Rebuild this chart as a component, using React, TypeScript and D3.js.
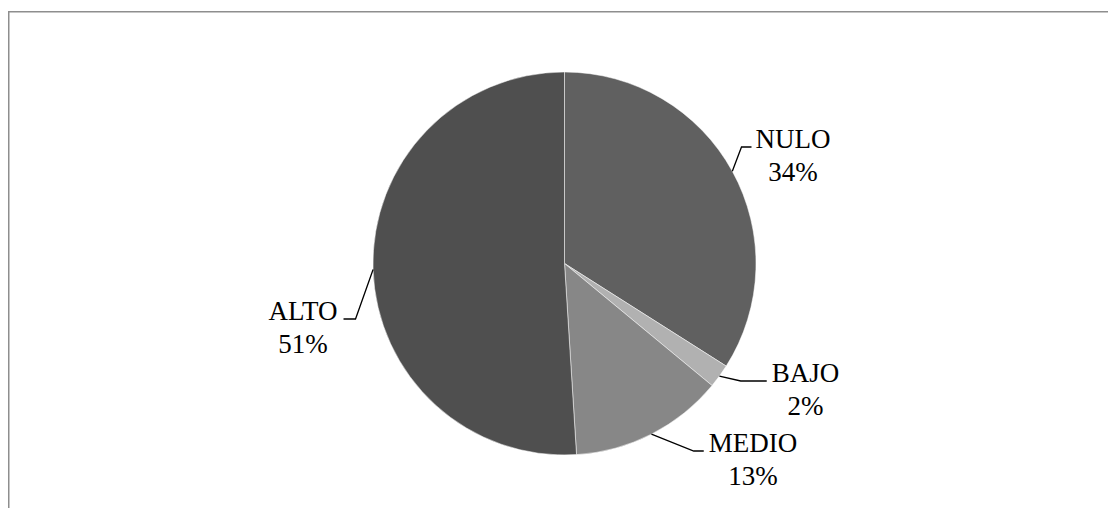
import React, { useEffect, useRef } from 'react';
import * as d3 from 'd3';

// datos del gráfico (orden horario desde las 12)
const categories = ['NULO', 'BAJO', 'MEDIO', 'ALTO'];
const values = [34, 2, 13, 51];
const percentLabels = ['34%', '2%', '13%', '51%'];

const colors = ['#606060', '#b1b1b1', '#878787', '#4f4f4f'];

// posición de cada etiqueta respecto al centro del pastel (centro del texto, primera línea base)
const labelLayout = [
  { dx: 228.5, dy: -115.5, side: 'right', tail: 10, gap: 4 },
  { dx: 241, dy: 118.5, side: 'right', tail: 26, gap: 5 },
  { dx: 188.5, dy: 188.5, side: 'right', tail: 10, gap: 5 },
  { dx: -261.5, dy: 56.5, side: 'left', tail: 12, gap: 6 },
];

// el svg ocupa toda la ventana
const W = 1108, H = 508;
const cx = 564.5, cy = 263.5, R = 191.5;
const FONT = '"Liberation Serif", "Times New Roman", serif';
const FS = 27;
const LINE = 32.5;

const App: React.FC = () => {
  const svgRef = useRef<SVGSVGElement>(null);

  useEffect(() => {
    if (!svgRef.current) return;
    const svg = d3.select(svgRef.current);
    svg.selectAll('*').remove();

    svg.append('rect').attr('width', W).attr('height', H).attr('fill', '#fff');

    // marco gris: sólo se ven los bordes superior e izquierdo
    svg.append('path')
      .attr('d', `M8.75,${H}V11.75H${W}`)
      .attr('fill', 'none')
      .attr('stroke', '#8e8e8e')
      .attr('stroke-width', 1.5);

    const g = svg.append('g').attr('transform', `translate(${cx},${cy})`);

    const data = categories.map((c, i) => ({ name: c, v: values[i], pct: percentLabels[i] }));
    const pie = d3.pie<typeof data[0]>().value(d => d.v).sort(null);
    const arcs = pie(data);
    const arc = d3.arc<d3.PieArcDatum<typeof data[0]>>().innerRadius(0).outerRadius(R);
    const edge = d3.arc<d3.PieArcDatum<typeof data[0]>>().innerRadius(R).outerRadius(R);

    g.selectAll('path.slice')
      .data(arcs)
      .enter()
      .append('path')
      .attr('class', 'slice')
      .attr('d', arc as any)
      .attr('fill', (d, i) => colors[i])
      .attr('stroke', '#fff')
      .attr('stroke-width', 0.5);

    arcs.forEach((a, i) => {
      const L = labelLayout[i];
      const t = g.append('text')
        .attr('text-anchor', 'middle')
        .style('font-family', FONT)
        .style('font-size', `${FS}px`)
        .attr('fill', '#000');
      const t1 = t.append('tspan').attr('x', L.dx).attr('y', L.dy).text(a.data.name);
      const t2 = t.append('tspan').attr('x', L.dx).attr('y', L.dy + LINE).text(a.data.pct);
      const w = Math.max(
        (t1.node() as SVGTSpanElement).getComputedTextLength(),
        (t2.node() as SVGTSpanElement).getComputedTextLength(),
      );
      // líneas guía
      const [sx, sy] = edge.centroid(a);
      const ly = L.dy - 1;
      let ex: number, elx: number;
      if (L.side === 'right') {
        ex = L.dx - w / 2 - L.gap;
        elx = ex - L.tail;
      } else {
        ex = L.dx + w / 2 + L.gap;
        elx = ex + L.tail;
      }
      g.append('path')
        .attr('d', d3.line()([[sx, sy], [elx, ly], [ex, ly]]) as string)
        .attr('fill', 'none')
        .attr('stroke', '#000')
        .attr('stroke-width', 1.3);
    });
  }, []);

  return (
    <svg ref={svgRef} width={W} height={H}
      style={{ display: 'block', position: 'fixed', left: 0, top: 0 }}></svg>
  );
};

export default App;
